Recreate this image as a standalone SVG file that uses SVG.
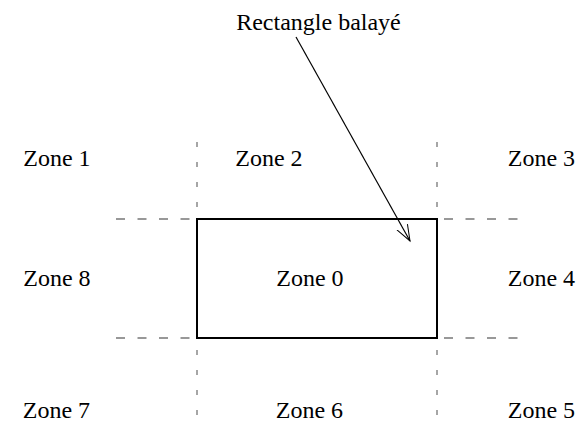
<svg xmlns="http://www.w3.org/2000/svg" width="587" height="425" viewBox="0 0 587 425">
<style>
.v{stroke:#777;stroke-width:1.3;stroke-dasharray:5 15;fill:none}
.h{stroke:#777;stroke-width:1.5;stroke-dasharray:9 12.5;fill:none}
.t{font-family:"Liberation Serif",serif;font-size:24px;fill:#000}
</style>
<defs>
<marker id="ah" markerWidth="20" markerHeight="20" refX="16" refY="8" orient="auto" markerUnits="userSpaceOnUse">
<path d="M0,2 L16,8 L0,14" fill="none" stroke="#000" stroke-width="1"/>
</marker>
</defs>
<rect width="587" height="425" fill="#fff"/>
<g id="guides">
<path class="v" d="M197,142 V219 M437,142 V219 M197,350 V420 M437,350 V420"/>
<path class="h" d="M116,219 H197 M116,338 H197 M444,219 H525 M444,338 H525"/>
</g>
<g id="zone0"><rect x="197" y="219" width="240" height="119" fill="none" stroke="#000" stroke-width="2"/>
<text class="t" style="font-family:'Liberation Serif',serif;font-size:24px" x="276.3" y="286">Zone 0</text></g>
<g id="zone1"><text class="t" style="font-family:'Liberation Serif',serif;font-size:24px" x="23.3" y="166">Zone 1</text></g>
<g id="zone2"><text class="t" style="font-family:'Liberation Serif',serif;font-size:24px" x="235.3" y="166">Zone 2</text></g>
<g id="zone3"><text class="t" style="font-family:'Liberation Serif',serif;font-size:24px" x="507.8" y="166">Zone 3</text></g>
<g id="zone8"><text class="t" style="font-family:'Liberation Serif',serif;font-size:24px" x="23.3" y="286">Zone 8</text></g>
<g id="zone4"><text class="t" style="font-family:'Liberation Serif',serif;font-size:24px" x="507.8" y="286">Zone 4</text></g>
<g id="zone7"><text class="t" style="font-family:'Liberation Serif',serif;font-size:24px" x="22.8" y="418">Zone 7</text></g>
<g id="zone6"><text class="t" style="font-family:'Liberation Serif',serif;font-size:24px" x="275.8" y="418">Zone 6</text></g>
<g id="zone5"><text class="t" style="font-family:'Liberation Serif',serif;font-size:24px" x="507.8" y="418">Zone 5</text></g>
<g id="label"><text class="t" style="font-family:'Liberation Serif',serif;font-size:24px" x="236.2" y="30">Rectangle balayé</text></g>
<g id="connectors">
<line x1="296" y1="37" x2="410" y2="241" stroke="#000" stroke-width="1.2" marker-end="url(#ah)"/>
</g>
</svg>
